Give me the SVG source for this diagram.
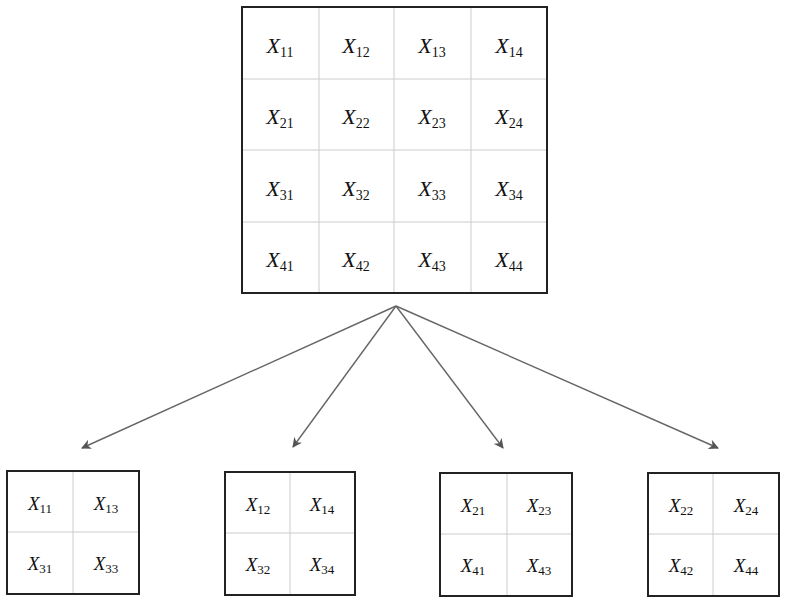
<svg xmlns="http://www.w3.org/2000/svg" width="786" height="604" viewBox="0 0 786 604">
<defs>
<marker id="ah" viewBox="0 0 10 10" refX="9" refY="5" markerWidth="10" markerHeight="10" markerUnits="userSpaceOnUse" orient="auto">
<path d="M0,0 L10,5 L0,10 L3,5 Z" fill="#555"/>
</marker>
</defs>
<style>
.box{fill:#fff;stroke:#222;stroke-width:2}
.grid{stroke:#ccc;stroke-width:1}
.big{font-family:"Liberation Serif",serif;font-size:22px;fill:#111}
.sm{font-family:"Liberation Serif",serif;font-size:19px;fill:#111}
.v{font-style:italic}
.conn{stroke:#666;stroke-width:1.4;fill:none}
</style>
<rect width="786" height="604" fill="#fff"/>
<g id="matrix">
<rect class="box" x="242" y="7" width="305" height="286"/>
<line class="grid" x1="319" y1="8" x2="319" y2="292"/>
<line class="grid" x1="394" y1="8" x2="394" y2="292"/>
<line class="grid" x1="471" y1="8" x2="471" y2="292"/>
<line class="grid" x1="243" y1="79" x2="546" y2="79"/>
<line class="grid" x1="243" y1="150" x2="546" y2="150"/>
<line class="grid" x1="243" y1="222" x2="546" y2="222"/>
<g class="big" text-anchor="middle">
<text x="280" y="53"><tspan class="v">X</tspan><tspan font-size="14" dy="4">11</tspan></text>
<text x="356" y="53"><tspan class="v">X</tspan><tspan font-size="14" dy="4">12</tspan></text>
<text x="432" y="53"><tspan class="v">X</tspan><tspan font-size="14" dy="4">13</tspan></text>
<text x="509" y="53"><tspan class="v">X</tspan><tspan font-size="14" dy="4">14</tspan></text>
<text x="280" y="124"><tspan class="v">X</tspan><tspan font-size="14" dy="4">21</tspan></text>
<text x="356" y="124"><tspan class="v">X</tspan><tspan font-size="14" dy="4">22</tspan></text>
<text x="432" y="124"><tspan class="v">X</tspan><tspan font-size="14" dy="4">23</tspan></text>
<text x="509" y="124"><tspan class="v">X</tspan><tspan font-size="14" dy="4">24</tspan></text>
<text x="280" y="196"><tspan class="v">X</tspan><tspan font-size="14" dy="4">31</tspan></text>
<text x="356" y="196"><tspan class="v">X</tspan><tspan font-size="14" dy="4">32</tspan></text>
<text x="432" y="196"><tspan class="v">X</tspan><tspan font-size="14" dy="4">33</tspan></text>
<text x="509" y="196"><tspan class="v">X</tspan><tspan font-size="14" dy="4">34</tspan></text>
<text x="280" y="267"><tspan class="v">X</tspan><tspan font-size="14" dy="4">41</tspan></text>
<text x="356" y="267"><tspan class="v">X</tspan><tspan font-size="14" dy="4">42</tspan></text>
<text x="432" y="267"><tspan class="v">X</tspan><tspan font-size="14" dy="4">43</tspan></text>
<text x="509" y="267"><tspan class="v">X</tspan><tspan font-size="14" dy="4">44</tspan></text>
</g>
</g>
<g id="connectors">
<line class="conn" x1="396" y1="306" x2="82" y2="448" marker-end="url(#ah)"/>
<line class="conn" x1="396" y1="306" x2="293" y2="447" marker-end="url(#ah)"/>
<line class="conn" x1="396" y1="306" x2="503" y2="448" marker-end="url(#ah)"/>
<line class="conn" x1="396" y1="306" x2="718" y2="448" marker-end="url(#ah)"/>
</g>
<g id="sub1">
<rect class="box" x="7" y="471" width="132" height="123"/>
<line class="grid" x1="73" y1="472" x2="73" y2="593"/>
<line class="grid" x1="8" y1="532" x2="138" y2="532"/>
<g class="sm" text-anchor="middle">
<text x="40" y="510"><tspan class="v">X</tspan><tspan font-size="13" dy="3">11</tspan></text>
<text x="106" y="510"><tspan class="v">X</tspan><tspan font-size="13" dy="3">13</tspan></text>
<text x="40" y="570"><tspan class="v">X</tspan><tspan font-size="13" dy="3">31</tspan></text>
<text x="106" y="570"><tspan class="v">X</tspan><tspan font-size="13" dy="3">33</tspan></text>
</g>
</g>
<g id="sub2">
<rect class="box" x="225" y="472" width="130" height="123"/>
<line class="grid" x1="290" y1="473" x2="290" y2="594"/>
<line class="grid" x1="226" y1="533" x2="354" y2="533"/>
<g class="sm" text-anchor="middle">
<text x="258" y="511"><tspan class="v">X</tspan><tspan font-size="13" dy="3">12</tspan></text>
<text x="322" y="511"><tspan class="v">X</tspan><tspan font-size="13" dy="3">14</tspan></text>
<text x="258" y="571"><tspan class="v">X</tspan><tspan font-size="13" dy="3">32</tspan></text>
<text x="322" y="571"><tspan class="v">X</tspan><tspan font-size="13" dy="3">34</tspan></text>
</g>
</g>
<g id="sub3">
<rect class="box" x="440" y="473" width="132" height="123"/>
<line class="grid" x1="507" y1="474" x2="507" y2="595"/>
<line class="grid" x1="441" y1="534" x2="571" y2="534"/>
<g class="sm" text-anchor="middle">
<text x="473" y="512"><tspan class="v">X</tspan><tspan font-size="13" dy="3">21</tspan></text>
<text x="539" y="512"><tspan class="v">X</tspan><tspan font-size="13" dy="3">23</tspan></text>
<text x="473" y="572"><tspan class="v">X</tspan><tspan font-size="13" dy="3">41</tspan></text>
<text x="539" y="572"><tspan class="v">X</tspan><tspan font-size="13" dy="3">43</tspan></text>
</g>
</g>
<g id="sub4">
<rect class="box" x="648" y="473" width="131" height="123"/>
<line class="grid" x1="713" y1="474" x2="713" y2="595"/>
<line class="grid" x1="649" y1="534" x2="778" y2="534"/>
<g class="sm" text-anchor="middle">
<text x="681" y="512"><tspan class="v">X</tspan><tspan font-size="13" dy="3">22</tspan></text>
<text x="746" y="512"><tspan class="v">X</tspan><tspan font-size="13" dy="3">24</tspan></text>
<text x="681" y="572"><tspan class="v">X</tspan><tspan font-size="13" dy="3">42</tspan></text>
<text x="746" y="572"><tspan class="v">X</tspan><tspan font-size="13" dy="3">44</tspan></text>
</g>
</g>
</svg>
